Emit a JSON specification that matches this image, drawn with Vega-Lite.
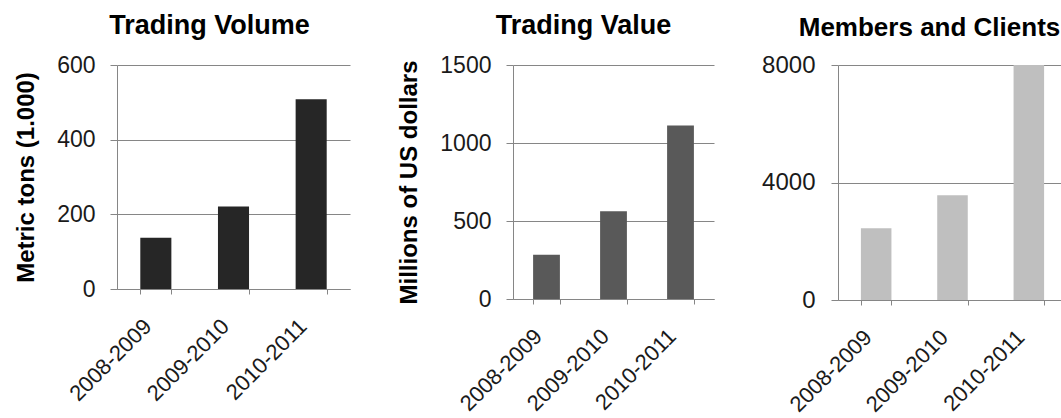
{
  "$schema": "https://vega.github.io/schema/vega-lite/v6.json",
  "background": "white",
  "padding": {"left": 14, "top": 12, "right": 0, "bottom": 0},
  "spacing": 47,
  "config": {
    "view": {"stroke": null},
    "font": "Liberation Sans",
    "title": {"fontSize": 27, "fontWeight": "bold", "color": "#000000", "anchor": "middle"},
    "bar": {"opacity": 1},
    "axis": {
      "domainColor": "#868686",
      "tickColor": "#868686",
      "gridColor": "#868686",
      "gridOpacity": 1,
      "labelColor": "#1a1a1a",
      "labelFont": "Liberation Sans",
      "titleFont": "Liberation Sans",
      "titleFontSize": 24,
      "titleFontWeight": "bold",
      "titleColor": "#000000"
    },
    "axisY": {"grid": true, "tickSize": 7, "labelPadding": 15, "titlePadding": 18, "labelFontSize": 23, "format": "d"},
    "axisX": {"grid": false, "tickBand": "extent", "tickSize": 5, "labelFontSize": 22, "labelAngle": -45, "labelAlign": "right", "labelBaseline": "bottom", "labelPadding": 37, "title": null}
  },
  "datasets": {
    "volume": [
      {"season": "2008-2009", "tons": 137},
      {"season": "2009-2010", "tons": 221},
      {"season": "2010-2011", "tons": 508}
    ],
    "value": [
      {"season": "2008-2009", "usd": 284},
      {"season": "2009-2010", "usd": 562},
      {"season": "2010-2011", "usd": 1112}
    ],
    "members": [
      {"season": "2008-2009", "count": 2445},
      {"season": "2009-2010", "count": 3563},
      {"season": "2010-2011", "count": 8000}
    ]
  },
  "resolve": {"scale": {"y": "independent", "x": "independent"}},
  "hconcat": [
    {
      "data": {"name": "volume"},
      "width": 233,
      "height": 224,
      "title": {"text": "Trading Volume", "dx": -24, "offset": 14},
      "mark": {"type": "bar", "color": "#262626"},
      "encoding": {
        "x": {"field": "season", "type": "nominal", "sort": null, "scale": {"paddingInner": 0.6, "paddingOuter": 0.3}},
        "y": {"field": "tons", "type": "quantitative", "scale": {"domain": [0, 600]}, "axis": {"values": [0, 200, 400, 600], "title": "Metric tons (1.000)"}}
      }
    },
    {
      "data": {"name": "value"},
      "width": 201,
      "height": 234,
      "title": {"text": "Trading Value", "dx": -30, "offset": 14},
      "mark": {"type": "bar", "color": "#595959"},
      "encoding": {
        "x": {"field": "season", "type": "nominal", "sort": null, "scale": {"paddingInner": 0.6, "paddingOuter": 0.3}},
        "y": {"field": "usd", "type": "quantitative", "scale": {"domain": [0, 1500]}, "axis": {"values": [0, 500, 1000, 1500], "title": "Millions of US dollars"}}
      }
    },
    {
      "data": {"name": "members"},
      "width": 229,
      "height": 235,
      "title": {"text": "Members and Clients", "dx": -23, "offset": 12, "fontSize": 26},
      "mark": {"type": "bar", "color": "#bfbfbf", "clip": true},
      "encoding": {
        "x": {"field": "season", "type": "nominal", "sort": null, "scale": {"paddingInner": 0.6, "paddingOuter": 0.3}},
        "y": {"field": "count", "type": "quantitative", "scale": {"domain": [0, 8000]}, "axis": {"values": [0, 4000, 8000], "title": null, "labelFontSize": 24, "labelPadding": 16}}
      }
    }
  ]
}
